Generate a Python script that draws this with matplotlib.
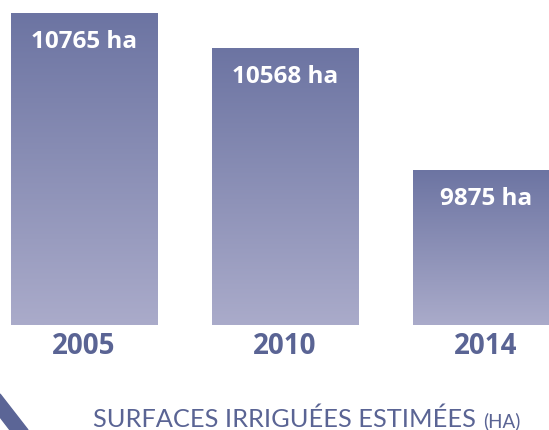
import numpy as np
import matplotlib
matplotlib.use("Agg")
import matplotlib.pyplot as plt
from matplotlib.colors import LinearSegmentedColormap
from matplotlib.patches import Polygon

years = ["2005", "2010", "2014"]
surfaces = [10765, 10568, 9875]
labels = ["10765 ha", "10568 ha", "9875 ha"]
title = "SURFACES IRRIGUÉES ESTIMÉES"
unit = "(HA)"

top_color = "#6c74a2"
bottom_color = "#aaabca"
text_color = "#5a6494"

fig = plt.figure(figsize=(5.49, 4.31), dpi=100)
ax = fig.add_axes([0, 105 / 431, 1, 326 / 431])
ymin, ymax = 8996, 10844
ax.axis("off")

# vertical gradient per bar
cmap = LinearSegmentedColormap.from_list("grad", [bottom_color, top_color])
grad = np.linspace(0, 1, 256).reshape(-1, 1)
width = 0.727
x = np.arange(len(years))
bars = ax.bar(x, [v - ymin for v in surfaces], bottom=ymin, width=width,
              color="none", edgecolor="none")
for b, v, lab in zip(bars, surfaces, labels):
    im = ax.imshow(grad, cmap=cmap, origin="lower", aspect="auto",
                   extent=[b.get_x(), b.get_x() + width, ymin, v], zorder=1)
    im.set_clip_path(b)
    ax.text(b.get_x() + width / 2, v - 193, lab, ha="center", va="baseline",
            color="white", fontsize=17.5, fontweight="bold", family="Open Sans")
ax.set_xlim(-0.418, 2.313)
ax.set_ylim(ymin, ymax)

for xi, yr in zip(x, years):
    fig.text((84 + 201 * xi) / 549, 1 - 354 / 431, yr, ha="center", va="baseline",
             color=text_color, fontsize=20, fontweight="bold", family="Open Sans")

fig.text(93 / 549, 1 - 427 / 431, title, ha="left", va="baseline",
         color=text_color, fontsize=18.3, family="Lato")
fig.text(483 / 549, 1 - 427 / 431, unit, ha="left", va="baseline",
         color=text_color, fontsize=13.5, family="Lato")

tri = Polygon([(0, 1 - 395 / 431), (28 / 549, 0), (10 / 549, 0), (0, 1 - 418 / 431)],
              closed=True, transform=fig.transFigure, color="#5b6596")
fig.patches.append(tri)

fig.savefig("out.png", dpi=100)
